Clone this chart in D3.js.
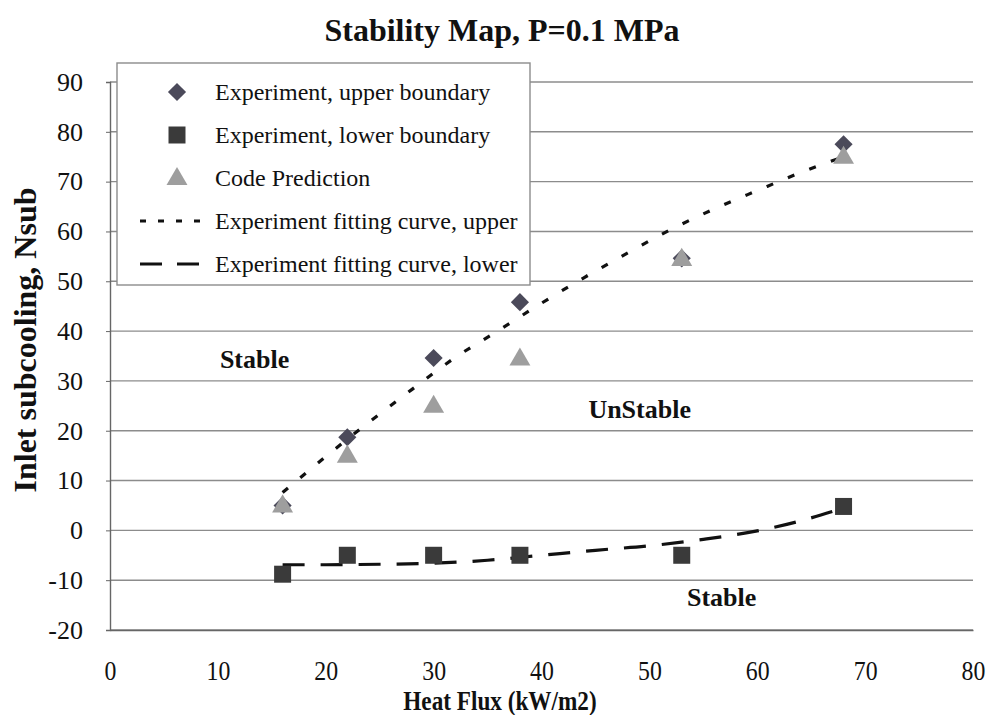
<!DOCTYPE html>
<html>
<head>
<meta charset="utf-8">
<script src="https://cdn.jsdelivr.net/npm/d3@7"></script>
<style>
  html, body { margin: 0; padding: 0; background: #fff; }
  svg { display: block; }
  text { font-family: "Liberation Serif", "Times New Roman", serif; fill: #111; }
</style>
</head>
<body>
<svg id="chart" width="988" height="715"></svg>
<script>
// Heat flux values (kW/m2) for the measured points
const heatFlux = [16, 22, 30, 38, 53, 68];
// Inlet subcooling at the upper and lower stability boundary, plus code prediction
const upperBoundary = [5, 18.7, 34.6, 45.8, 54.6, 77.5];
const lowerBoundary = [-8.8, -5, -5, -5, -5, 4.8];
const codePrediction = [5, 15, 25, 34.5, 54.5, 75];

// Fitted curves through the experimental boundaries
const upperFitX = [16, 20, 24, 28, 32, 36, 40, 44, 48, 52, 56, 60, 64, 68];
const upperFitY = [7.6, 14.8, 21.7, 28.3, 34.7, 40.1, 45.6, 50.8, 55.7, 60.4, 64.5, 68.2, 71.8, 75];
const lowerFitX = [16, 20, 25, 30, 35, 40, 45, 50, 55, 60, 64, 68];
const lowerFitY = [-6.9, -6.9, -6.8, -6.6, -6.0, -5.0, -4.0, -3.1, -1.8, -0.1, 1.9, 4.5];

const xTicks = [0, 10, 20, 30, 40, 50, 60, 70, 80];
const yTicks = [-20, -10, 0, 10, 20, 30, 40, 50, 60, 70, 80, 90];

const legendLabels = [
  "Experiment, upper boundary",
  "Experiment, lower boundary",
  "Code Prediction",
  "Experiment fitting curve, upper",
  "Experiment fitting curve, lower"
];

const regionLabels = [
  { text: "Stable", x: 13.4, y: 32.6 },
  { text: "UnStable", x: 49.1, y: 22.5 },
  { text: "Stable", x: 56.7, y: -15.2 }
];

const colors = {
  diamond: "#4b4a5a",
  square: "#3a3a3a",
  triangle: "#9e9e9e",
  grid: "#8c8c8c",
  line: "#111"
};

const serif = '"Liberation Serif", "Times New Roman", serif';
const svg = d3.select("#chart");
const plot = { left: 110, right: 973, top: 82, bottom: 630 };

const x = d3.scaleLinear().domain([0, 80]).range([plot.left, plot.right]);
const y = d3.scaleLinear().domain([-20, 90]).range([plot.bottom, plot.top]);

// Title
svg.append("text")
  .attr("x", 502).attr("y", 41)
  .attr("text-anchor", "middle")
  .style("font-size", "32px").style("font-weight", "bold")
  .text("Stability Map, P=0.1 MPa");

// Horizontal gridlines
svg.append("g")
  .selectAll("line")
  .data(yTicks)
  .join("line")
  .attr("x1", plot.left).attr("x2", plot.right)
  .attr("y1", d => y(d)).attr("y2", d => y(d))
  .attr("stroke", colors.grid).attr("stroke-width", 1.4);

// Y axis
const yAxis = svg.append("g")
  .attr("transform", `translate(${plot.left},0)`)
  .call(d3.axisLeft(y).tickValues(yTicks).tickFormat(d => String(d)).tickSize(4).tickPadding(23));
yAxis.attr("font-family", serif).attr("font-size", 26);
yAxis.select(".domain").attr("stroke", "#666").attr("stroke-width", 1.4);
yAxis.selectAll(".tick line").attr("stroke", "#666");
yAxis.selectAll("text")
  .style("font-family", serif).style("font-size", "26px").attr("fill", "#111");

// X axis (labels only, the bottom gridline forms the axis line)
const xAxis = svg.append("g")
  .attr("transform", `translate(0,${plot.bottom})`)
  .call(d3.axisBottom(x).tickValues(xTicks).tickFormat(d => String(d)).tickSize(0));
xAxis.attr("font-family", serif).attr("font-size", 28);
xAxis.select(".domain").attr("stroke", "#666").attr("stroke-width", 1.4);
xAxis.selectAll("text")
  .style("font-family", serif).style("font-size", "28px").attr("fill", "#111")
  .attr("y", 50).attr("dy", null)
  .attr("transform", "scale(0.85,1)");

// Axis titles
svg.append("text")
  .attr("transform", "translate(500,710) scale(0.86,1)")
  .attr("text-anchor", "middle")
  .style("font-size", "27px").style("font-weight", "bold")
  .text("Heat Flux (kW/m2)");

svg.append("text")
  .attr("transform", "translate(36,340) rotate(-90)")
  .attr("text-anchor", "middle")
  .style("font-size", "32px").style("font-weight", "bold")
  .text("Inlet subcooling, Nsub");

// Region labels
svg.append("g")
  .selectAll("text")
  .data(regionLabels)
  .join("text")
  .attr("x", d => x(d.x)).attr("y", d => y(d.y))
  .attr("text-anchor", "middle")
  .style("font-size", "26px").style("font-weight", "bold")
  .text(d => d.text);

// Marker shapes
const diamondSym = d3.symbol().type(d3.symbolDiamond2).size(210);
const squareSym = d3.symbol().type(d3.symbolSquare).size(289);
const triangleSym = d3.symbol().type(d3.symbolTriangle).size(190);

const line = d3.line().x(d => x(d[0])).y(d => y(d[1])).curve(d3.curveMonotoneX);

// Fitting curves
svg.append("path")
  .datum(d3.zip(upperFitX, upperFitY))
  .attr("d", line)
  .attr("fill", "none").attr("stroke", colors.line)
  .attr("stroke-width", 3.2).attr("stroke-dasharray", "7,16");

svg.append("path")
  .datum(d3.zip(lowerFitX, lowerFitY))
  .attr("d", line)
  .attr("fill", "none").attr("stroke", colors.line)
  .attr("stroke-width", 3.2).attr("stroke-dasharray", "22,16");

// Experimental points
svg.append("g")
  .selectAll("path")
  .data(d3.zip(heatFlux, upperBoundary))
  .join("path")
  .attr("transform", d => `translate(${x(d[0])},${y(d[1])})`)
  .attr("d", diamondSym)
  .attr("fill", colors.diamond);

svg.append("g")
  .selectAll("path")
  .data(d3.zip(heatFlux, lowerBoundary))
  .join("path")
  .attr("transform", d => `translate(${x(d[0])},${y(d[1])})`)
  .attr("d", squareSym)
  .attr("fill", colors.square);

svg.append("g")
  .selectAll("path")
  .data(d3.zip(heatFlux, codePrediction))
  .join("path")
  .attr("transform", d => `translate(${x(d[0])},${y(d[1]) + 1})`)
  .attr("d", triangleSym)
  .attr("fill", colors.triangle);

// Legend
const legend = svg.append("g");
legend.append("rect")
  .attr("x", 117).attr("y", 63).attr("width", 413).attr("height", 222)
  .attr("fill", "#fff").attr("stroke", "#8c8c8c").attr("stroke-width", 1.4);

const rowY = i => 92 + i * 43;
const markerX = 177;

legend.append("path").attr("transform", `translate(${markerX},${rowY(0)})`)
  .attr("d", diamondSym).attr("fill", colors.diamond);
legend.append("path").attr("transform", `translate(${markerX},${rowY(1)})`)
  .attr("d", squareSym).attr("fill", colors.square);
legend.append("path").attr("transform", `translate(${markerX},${rowY(2) + 1})`)
  .attr("d", triangleSym).attr("fill", colors.triangle);
legend.append("line")
  .attr("x1", 140).attr("x2", 212).attr("y1", rowY(3)).attr("y2", rowY(3))
  .attr("stroke", colors.line).attr("stroke-width", 3.2).attr("stroke-dasharray", "6,12");
legend.append("line")
  .attr("x1", 140).attr("x2", 200).attr("y1", rowY(4)).attr("y2", rowY(4))
  .attr("stroke", colors.line).attr("stroke-width", 3.2).attr("stroke-dasharray", "22,15");

legend.selectAll("text.lbl")
  .data(legendLabels)
  .join("text")
  .attr("class", "lbl")
  .attr("x", 215).attr("y", (d, i) => rowY(i) + 8)
  .style("font-size", "24px")
  .text(d => d);
</script>
</body>
</html>
